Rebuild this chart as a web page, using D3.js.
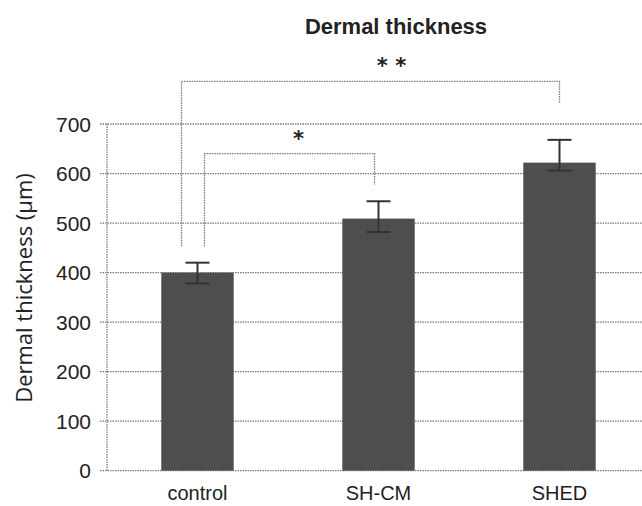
<!DOCTYPE html>
<html><head><meta charset="utf-8">
<script src="https://cdn.jsdelivr.net/npm/d3@7"></script>
<style>body{margin:0;background:#fff}</style>
</head><body>
<svg id="c" width="642" height="506"></svg>
<script>
const categories = ["control", "SH-CM", "SHED"];
const means = [400, 509, 622];
const errHigh = [20, 35, 46];
const errLow = [22, 27, 16];
const yTicks = [0, 100, 200, 300, 400, 500, 600, 700];
const titleText = "Dermal thickness";
const yLabel = "Dermal thickness (μm)";
// significance brackets
const sigFrom = [0, 0];
const sigTo = [2, 1];
const sigLabel = ["* *", "*"];
const sigTop = [786, 640];
const sigLeftEnd = [453, 453];
const sigRightEnd = [743, 578];

(function () {
const svg = d3.select("#c");
const pLeft = 107, pRight = 650, pTop = 124, pBottom = 470.7;
const x = d3.scaleBand().domain(categories).range([pLeft, pRight]).paddingInner(0.6).paddingOuter(0.3);
const y = d3.scaleLinear().domain([0, 700]).range([pBottom, pTop]);
const grid = "#7a7a7a";

svg.append("g").selectAll("line").data(yTicks).join("line")
  .attr("x1", 100).attr("x2", 642)
  .attr("y1", d => y(d)).attr("y2", d => y(d))
  .attr("stroke", grid).attr("stroke-width", 1.3).attr("stroke-dasharray", "1.5,1");
svg.append("line").attr("x1", pLeft).attr("x2", pLeft).attr("y1", y(700)).attr("y2", y(0))
  .attr("stroke", grid).attr("stroke-width", 1.3).attr("stroke-dasharray", "1.5,1");

svg.append("g").selectAll("text").data(yTicks).join("text")
  .attr("x", 91).attr("y", d => y(d)).attr("dy", "0.36em")
  .attr("text-anchor", "end").attr("font-family", "'Liberation Sans', Arial, sans-serif")
  .attr("font-size", 21).attr("fill", "#222").text(d => d);

svg.append("g").selectAll("rect").data(means).join("rect")
  .attr("x", (d, i) => x(categories[i])).attr("width", x.bandwidth())
  .attr("y", d => y(d)).attr("height", d => y(0) - y(d))
  .attr("fill", "#4e4e4e");

const eb = svg.append("g").attr("stroke", "#333").attr("stroke-width", 2);
means.forEach((m, i) => {
  const cx = x(categories[i]) + x.bandwidth() / 2;
  eb.append("line").attr("x1", cx).attr("x2", cx).attr("y1", y(m + errHigh[i])).attr("y2", y(m - errLow[i]));
  eb.append("line").attr("x1", cx - 12).attr("x2", cx + 12).attr("y1", y(m + errHigh[i])).attr("y2", y(m + errHigh[i]));
  eb.append("line").attr("x1", cx - 12).attr("x2", cx + 12).attr("y1", y(m - errLow[i])).attr("y2", y(m - errLow[i]));
});

svg.append("g").selectAll("text").data(categories).join("text")
  .attr("x", d => x(d) + x.bandwidth() / 2).attr("y", 500)
  .attr("text-anchor", "middle").attr("font-family", "'Liberation Sans', Arial, sans-serif")
  .attr("font-size", 20).attr("fill", "#222").text(d => d);

svg.append("text").attr("transform", "translate(32,288) rotate(-90)")
  .attr("text-anchor", "middle").attr("font-family", "'Open Sans', sans-serif")
  .attr("font-size", 22).attr("fill", "#222").text(yLabel);

svg.append("text").attr("x", 396).attr("y", 34).attr("text-anchor", "middle")
  .attr("font-family", "'Liberation Sans Narrow', sans-serif").attr("font-weight", "bold")
  .attr("font-size", 22).attr("fill", "#222").text(titleText);

const legOffL = [-16, 7], legOffR = [0, -4], labelOff = [21, 9];
const sg = svg.append("g");
sigFrom.forEach((f, k) => {
  const xl = x(categories[f]) + x.bandwidth() / 2 + legOffL[k];
  const xr = x(categories[sigTo[k]]) + x.bandwidth() / 2 + legOffR[k];
  sg.append("path")
    .attr("d", `M${xl},${y(sigLeftEnd[k])}V${y(sigTop[k])}H${xr}V${y(sigRightEnd[k])}`)
    .attr("fill", "none").attr("stroke", grid).attr("stroke-width", 1.3).attr("stroke-dasharray", "1.5,1");
  sg.append("text").attr("x", (xl + xr) / 2 + labelOff[k]).attr("y", y(sigTop[k]) - 8)
    .attr("text-anchor", "middle").attr("font-family", "'DejaVu Sans', sans-serif")
    .attr("font-weight", "bold").attr("font-size", 21).attr("fill", "#222")
    .attr("xml:space", "preserve").text(sigLabel[k]);
});
})();
</script>
</body></html>
